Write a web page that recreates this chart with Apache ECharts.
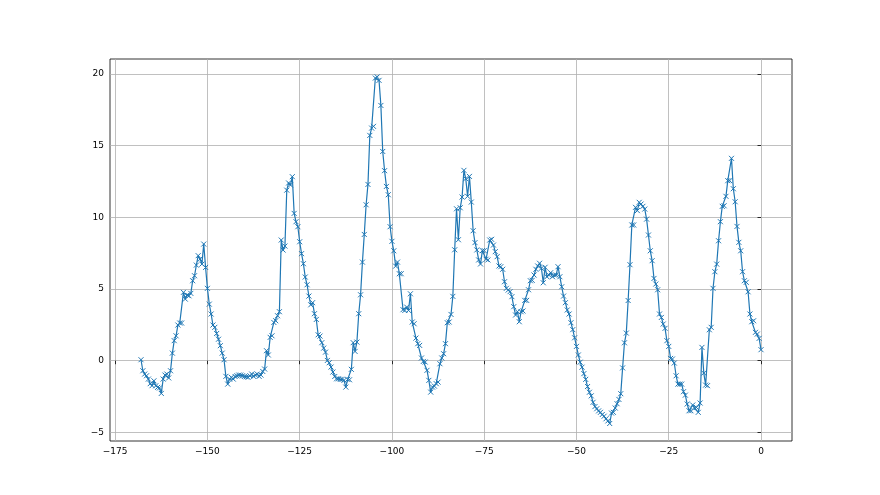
<!DOCTYPE html>
<html>
<head>
<meta charset="utf-8">
<script src="https://cdn.jsdelivr.net/npm/echarts@6/dist/echarts.min.js"></script>
<style>
html,body{margin:0;padding:0;background:#fff;}
#chart{width:880px;height:495px;}
</style>
</head>
<body>
<div id="chart"></div>
<script>
// Sampling: hours relative to now, every half hour from -168 to 0
const startHour = -168;
const stepHour = 0.5;
// Values (one per half hour)
const temperature = [
  0.07, -0.7, -0.93, -1.05, -1.28, -1.6, -1.74, -1.4, -1.75, -1.86,
  -1.9, -2.28, -1.28, -1.0, -0.93, -1.2, -0.7, 0.53, 1.4, 1.74,
  2.49, 2.63, 2.63, 4.77, 4.3, 4.58, 4.53, 4.7, 5.58, 5.93,
  6.67, 7.33, 7.09, 6.74, 8.14, 6.51, 5.05, 3.95, 3.26, 2.49,
  2.33, 1.9, 1.5, 1.05, 0.53, 0.07, -1.09, -1.63, -1.28, -1.16,
  -1.28, -1.1, -1.05, -1.0, -1.0, -1.05, -1.1, -1.12, -1.16, -1.05,
  -0.93, -1.09, -1.0, -0.93, -1.09, -1.0, -0.75, -0.58, 0.7, 0.4,
  1.63, 1.74, 2.67, 2.79, 3.14, 3.42, 8.42, 7.72, 8.0, 11.9,
  12.4, 12.26, 12.84, 10.28, 9.7, 9.35, 8.3, 7.47, 6.77, 5.84,
  5.3, 4.51, 3.9, 4.05, 3.28, 2.88, 1.81, 1.72, 1.26, 0.88,
  0.6, 0.02, -0.14, -0.44, -0.79, -1.1, -1.26, -1.26, -1.3, -1.3,
  -1.37, -1.84, -1.3, -1.33, -0.6, 1.26, 0.65, 1.3, 3.28, 4.6,
  6.88, 8.81, 10.88, 12.3, 15.72, 16.23, 16.35, 19.72, 19.8, 19.56,
  17.81, 14.6, 13.26, 12.16, 11.58, 9.35, 8.33, 7.67, 6.6, 6.88,
  6.07, 6.07, 3.56, 3.51, 3.74, 3.51, 4.67, 2.7, 2.58, 1.58,
  1.19, 1.07, 0.19, -0.05, -0.09, -0.67, -1.37, -2.19, -1.84, -1.77,
  -1.6, -1.49, -0.21, 0.19, 0.49, 1.19, 2.65, 2.7, 3.23, 4.49,
  7.74, 10.6, 8.44, 10.67, 11.42, 13.28, 12.7, 11.47, 12.86, 11.07,
  9.07, 8.24, 7.73, 7.03, 6.75, 7.68, 7.68, 7.08, 7.03, 8.42,
  8.47, 8.07, 7.61, 7.26, 6.61, 6.56, 6.38, 5.51, 5.05, 4.93,
  4.82, 4.47, 3.77, 3.19, 3.42, 2.72, 3.42, 3.47, 4.21, 4.21,
  4.95, 5.58, 5.61, 5.98, 6.38, 6.61, 6.8, 6.45, 5.44, 6.52,
  5.86, 5.98, 6.14, 5.86, 5.98, 5.98, 6.56, 5.86, 5.16, 4.51,
  4.05, 3.54, 3.26, 2.65, 2.17, 1.6, 1.0, 0.4, -0.1, -0.45,
  -0.9, -1.3, -1.8, -2.2, -2.45, -2.9, -3.2, -3.35, -3.5, -3.6,
  -3.75, -3.87, -4.05, -4.2, -4.38, -3.65, -3.6, -3.3, -3.0, -2.7,
  -2.3, -0.5, 1.25, 1.93, 4.2, 6.7, 9.47, 9.47, 10.7, 10.47,
  11.05, 10.93, 10.77, 10.58, 9.88, 8.77, 7.67, 6.98, 5.74, 5.35,
  4.95, 3.26, 3.02, 2.56, 2.26, 1.4, 1.0, 0.16, 0.12, -0.16,
  -1.05, -1.63, -1.63, -1.63, -2.16, -2.4, -3.02, -3.49, -3.49, -3.09,
  -3.3, -3.26, -3.6, -2.95, 0.93, -0.86, -1.7, -1.74, 2.16, 2.33,
  5.05, 6.21, 6.74, 8.37, 9.7, 10.77, 10.81, 11.47, 12.56, 12.56,
  14.12, 12.0, 11.09, 9.37, 8.26, 7.67, 6.21, 5.58, 5.47, 4.81,
  3.26, 2.72, 2.79, 1.98, 1.86, 1.56, 0.77
];
const xTicks = [-175, -150, -125, -100, -75, -50, -25, 0];
const yTicks = [-5, 0, 5, 10, 15, 20];

const points = temperature.map((v, i) => [startHour + stepHour * i, v]);
const fmt = v => String(v).replace('-', '\u2212');

const chart = echarts.init(document.getElementById('chart'), null, {renderer: 'canvas'});
chart.setOption({
  animation: false,
  backgroundColor: '#fff',
  grid: {left: 110, right: 88, top: 59, bottom: 54, show: true, borderColor: '#000', borderWidth: 0.8, backgroundColor: 'transparent'},
  xAxis: {
    type: 'value', min: -176.4, max: 8.4,
    axisLine: {show: false},
    axisTick: {show: true, inside: false, length: 3.5, lineStyle: {color: '#000', width: 0.8}, customValues: xTicks},
    axisLabel: {show: true, customValues: xTicks, formatter: fmt, color: '#000', fontFamily: 'DejaVu Sans', fontSize: 9, margin: 6},
    splitLine: {show: true, lineStyle: {color: '#b0b0b0', width: 0.8}}
  },
  yAxis: {
    type: 'value', min: -5.6, max: 21.05,
    axisLine: {show: false},
    axisTick: {show: true, inside: false, length: 3.5, lineStyle: {color: '#000', width: 0.8}, customValues: yTicks},
    axisLabel: {show: true, customValues: yTicks, formatter: fmt, color: '#000', fontFamily: 'DejaVu Sans', fontSize: 9, margin: 6},
    splitLine: {show: true, lineStyle: {color: '#b0b0b0', width: 0.8}}
  },
  series: [{
    type: 'line',
    data: points,
    showSymbol: true,
    showAllSymbol: true,
    symbol: 'path://M0,0L10,10M10,0L0,10',
    symbolSize: 5,
    itemStyle: {color: 'rgba(0,0,0,0)', borderColor: '#1f77b4', borderWidth: 1},
    lineStyle: {color: '#1f77b4', width: 1.2},
    z: 3
  }]
});
</script>
</body>
</html>
